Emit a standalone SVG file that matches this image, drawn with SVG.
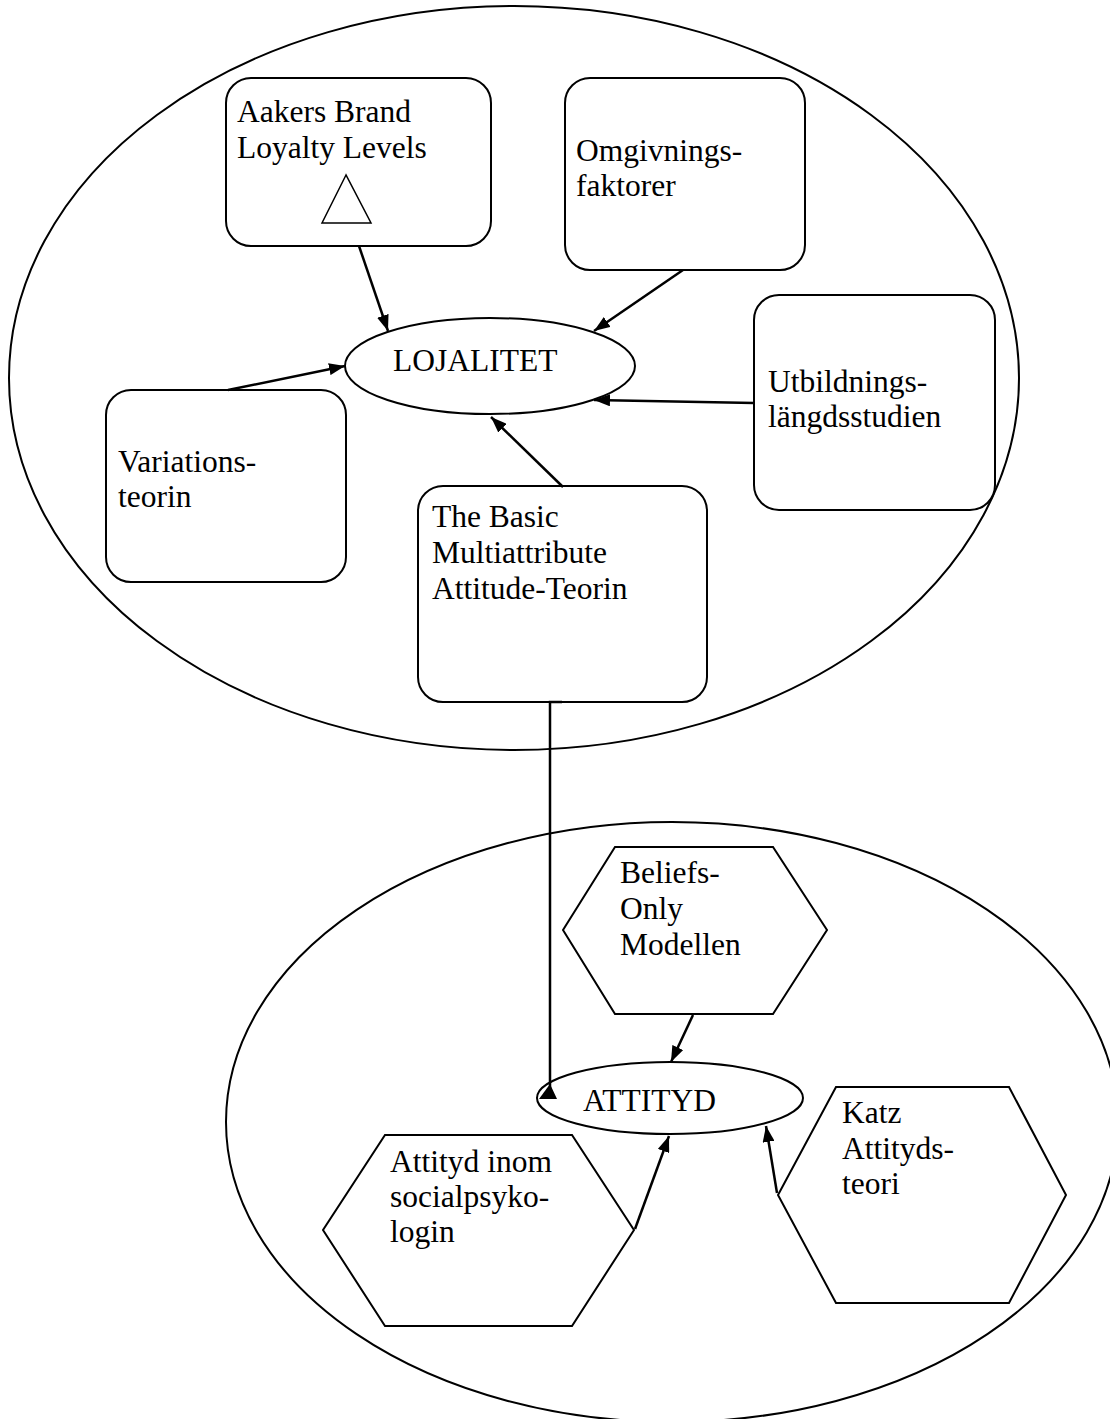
<svg xmlns="http://www.w3.org/2000/svg" width="1110" height="1419" viewBox="0 0 1110 1419">
<defs>
<style>
.sh{fill:#fff;stroke:#000;stroke-width:2}
.big{fill:none;stroke:#000;stroke-width:2}
.t{font-family:"Liberation Serif","Times New Roman",serif;font-size:31.5px;fill:#000}
.c{stroke:#000;stroke-width:2.5;fill:none}
</style>
<marker id="ah" viewBox="0 0 16 12" refX="16" refY="6" markerWidth="16" markerHeight="12" markerUnits="userSpaceOnUse" orient="auto">
<path d="M0,0 L16,6 L0,12 z" fill="#000"/>
</marker>
</defs>
<rect width="1110" height="1419" fill="#fff"/>
<g id="group-lojalitet">
<ellipse class="big" cx="514" cy="378" rx="505" ry="372"/>
</g>
<g id="group-attityd">
<ellipse class="big" cx="672" cy="1122" rx="446" ry="300"/>
</g>
<g id="aakers">
<rect class="sh" x="226" y="78" width="265" height="168" rx="25"/>
<text class="t" x="237" y="122">Aakers Brand</text>
<text class="t" x="237" y="158">Loyalty Levels</text>
<polygon points="346,175 322,223 371,223" fill="#fff" stroke="#000" stroke-width="1.5"/>
</g>
<g id="omgivning">
<rect class="sh" x="565" y="78" width="240" height="192" rx="25"/>
<text class="t" x="576" y="161">Omgivnings-</text>
<text class="t" x="576" y="196">faktorer</text>
</g>
<g id="utbildning">
<rect class="sh" x="754" y="295" width="241" height="215" rx="25"/>
<text class="t" x="768" y="392">Utbildnings-</text>
<text class="t" x="768" y="427">längdsstudien</text>
</g>
<g id="variation">
<rect class="sh" x="106" y="390" width="240" height="192" rx="25"/>
<text class="t" x="118" y="472">Variations-</text>
<text class="t" x="118" y="507">teorin</text>
</g>
<g id="basic">
<rect class="sh" x="418" y="486" width="289" height="216" rx="25"/>
<text class="t" x="432" y="527">The Basic</text>
<text class="t" x="432" y="563">Multiattribute</text>
<text class="t" x="432" y="599">Attitude-Teorin</text>
</g>
<g id="lojalitet">
<ellipse class="sh" cx="490" cy="366" rx="145" ry="48"/>
<text class="t" x="393" y="371">LOJALITET</text>
</g>
<g id="beliefs">
<polygon class="sh" points="615,847 773,847 827,930 773,1014 615,1014 563,930"/>
<text class="t" x="620" y="883">Beliefs-</text>
<text class="t" x="620" y="919">Only</text>
<text class="t" x="620" y="955">Modellen</text>
</g>
<g id="socialpsyk">
<polygon class="sh" points="385,1135 572,1135 634,1230 572,1326 385,1326 323,1230"/>
<text class="t" x="390" y="1172">Attityd inom</text>
<text class="t" x="390" y="1207">socialpsyko-</text>
<text class="t" x="390" y="1242">login</text>
</g>
<g id="katz">
<polygon class="sh" points="836,1087 1009,1087 1066,1195 1009,1303 836,1303 778,1195"/>
<text class="t" x="842" y="1123">Katz</text>
<text class="t" x="842" y="1159">Attityds-</text>
<text class="t" x="842" y="1194">teori</text>
</g>
<g id="attityd">
<ellipse class="sh" cx="670" cy="1098" rx="133" ry="36"/>
<text class="t" x="583" y="1111">ATTITYD</text>
</g>
<g id="connectors">
<line class="c" x1="359" y1="246" x2="388" y2="331" marker-end="url(#ah)"/>
<line class="c" x1="683" y1="270" x2="594" y2="331" marker-end="url(#ah)"/>
<line class="c" x1="228" y1="390" x2="345" y2="366" marker-end="url(#ah)"/>
<line class="c" x1="754" y1="403" x2="594" y2="400" marker-end="url(#ah)"/>
<line class="c" x1="563" y1="487" x2="491" y2="417" marker-end="url(#ah)"/>
<polyline class="c" points="562,702 550,702 550,1090"/>
<polygon points="550,1084 539,1099 557,1099" fill="#000"/>
<line class="c" x1="693" y1="1015" x2="671" y2="1062" marker-end="url(#ah)"/>
<line class="c" x1="635" y1="1229" x2="669" y2="1136" marker-end="url(#ah)"/>
<line class="c" x1="777" y1="1193" x2="766" y2="1126" marker-end="url(#ah)"/>
</g>
</svg>
